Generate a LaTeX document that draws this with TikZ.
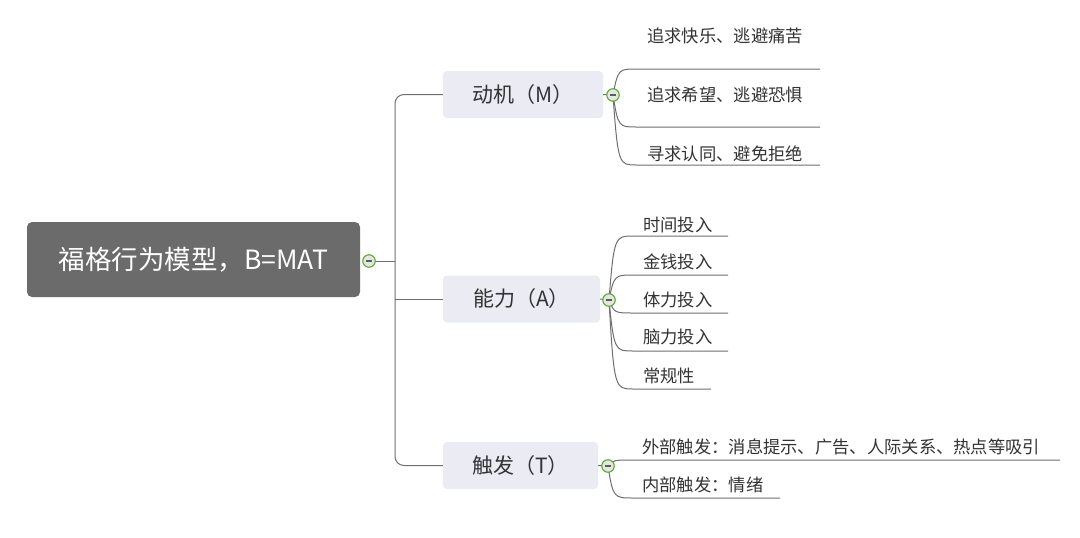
\documentclass[tikz,border=0pt]{standalone}
\usepackage{fontspec}
\newfontfamily\cjk{Noto Sans CJK SC}
\usetikzlibrary{calc}
\definecolor{rootfill}{HTML}{6B6B6B}
\definecolor{subfill}{HTML}{EAEBF3}
\definecolor{linec}{HTML}{6E6E6E}
\definecolor{txt}{HTML}{333333}
\definecolor{grn}{HTML}{5AAA32}
\definecolor{togfill}{HTML}{E4E6E2}
\tikzset{
  rootbox/.style={rectangle, rounded corners=5pt, fill=rootfill, text=white, font=\cjk\fontsize{26.5}{26.5}\selectfont, minimum width=333pt, minimum height=75pt, inner sep=0pt},
  subbox/.style={rectangle, rounded corners=4pt, fill=subfill, text=txt, font=\cjk\fontsize{21}{21}\selectfont, minimum height=47pt, inner sep=0pt},
  leaf/.style={anchor=west, inner sep=0pt, text=txt, font=\cjk\fontsize{17.3}{17.3}\selectfont},
  conn/.style={draw=linec, line width=1pt},
  tog/.style={circle, draw=grn, fill=togfill, line width=1.1pt, minimum size=12.5pt, inner sep=0pt},
  togdash/.style={draw=txt!80, line width=1.1pt}
}
\newcommand{\togmark}[1]{\draw[togdash] ($(#1)+(-3.2,0)$) -- ($(#1)+(3.2,0)$);}
\begin{document}
\begin{tikzpicture}[x=1pt,y=-1pt]
\useasboundingbox (0,0) rectangle (1080,538);
% root
\node[rootbox] (root) at (193.5,259.5) {福格行为模型，B=MAT};
% children
\node[subbox, minimum width=160pt] (m) at (523,94.5) {动机（M）};
\node[subbox, minimum width=157pt] (a) at (521.5,299) {能力（A）};
\node[subbox, minimum width=155pt] (t) at (520.5,465.5) {触发（T）};
% toggle centres
\coordinate (rcc) at (369,261);
\coordinate (mcc) at (613,95);
\coordinate (acc) at (609,300);
\coordinate (tcc) at (608,466);
\coordinate (trunk) at (395,261);
% trunk connectors
\draw[conn] (rcc) -- (trunk);
\draw[conn, rounded corners=9pt] (m.west) -| (trunk);
\draw[conn, rounded corners=9pt] (t.west) -| (trunk);
\draw[conn] (a.west) -- (a.west -| trunk);
\draw[conn] (m.east) -- (mcc);
\draw[conn] (a.east) -- (acc);
\draw[conn] (t.east) -- (tcc);
% M leaves
\node[leaf] (m1) at (647,36) {追求快乐、逃避痛苦};
\node[leaf] (m2) at (647,95) {追求希望、逃避恐惧};
\node[leaf] (m3) at (647,154) {寻求认同、避免拒绝};
\coordinate (m1s) at (636,69);  \coordinate (m1e) at (820,69);
\coordinate (m2s) at (636,127); \coordinate (m2e) at (820,127);
\coordinate (m3s) at (636,165); \coordinate (m3e) at (820,165);
\foreach \l in {m1,m2,m3}{
  \draw[conn] (mcc) .. controls ($(mcc |- \l s)+(5,0)$) and ($(mcc |- \l s)+(6,0)$) .. (\l s) -- (\l e);
}
% A leaves
\node[leaf] (a1) at (643,225) {时间投入};
\node[leaf] (a2) at (643,262) {金钱投入};
\node[leaf] (a3) at (643,300) {体力投入};
\node[leaf] (a4) at (643,337) {脑力投入};
\node[leaf] (a5) at (643,376) {常规性};
\coordinate (a1s) at (633,236); \coordinate (a1e) at (728,236);
\coordinate (a2s) at (633,275); \coordinate (a2e) at (728,275);
\coordinate (a3s) at (633,313); \coordinate (a3e) at (728,313);
\coordinate (a4s) at (633,351); \coordinate (a4e) at (728,351);
\coordinate (a5s) at (633,389); \coordinate (a5e) at (711,389);
\foreach \l in {a1,a2,a3,a4,a5}{
  \draw[conn] (acc) .. controls ($(acc |- \l s)+(5,0)$) and ($(acc |- \l s)+(6,0)$) .. (\l s) -- (\l e);
}
% T leaves
\node[leaf] (t1) at (642,447) {外部触发：消息提示、广告、人际关系、热点等吸引};
\node[leaf] (t2) at (642,485) {内部触发：情绪};
\coordinate (t1s) at (633,460); \coordinate (t1e) at (1060,460);
\coordinate (t2s) at (633,498); \coordinate (t2e) at (780,498);
\foreach \l in {t1,t2}{
  \draw[conn] (tcc) .. controls ($(tcc |- \l s)+(5,0)$) and ($(tcc |- \l s)+(6,0)$) .. (\l s) -- (\l e);
}
% toggles
\node[tog] (rc) at (rcc) {}; \togmark{rc}
\node[tog] (mc) at (mcc) {}; \togmark{mc}
\node[tog] (ac) at (acc) {}; \togmark{ac}
\node[tog] (tc) at (tcc) {}; \togmark{tc}
\end{tikzpicture}
\end{document}
